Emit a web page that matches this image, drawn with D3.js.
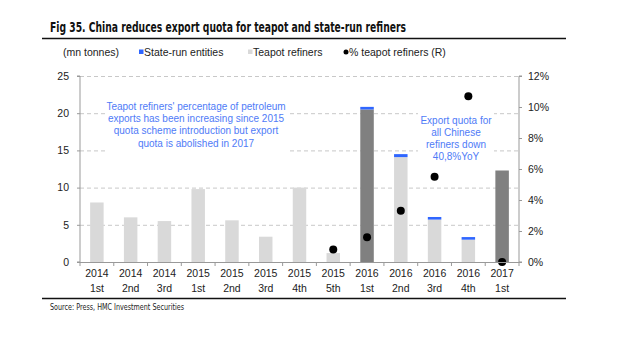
<!DOCTYPE html>
<html>
<head>
<meta charset="utf-8">
<script src="https://cdn.jsdelivr.net/npm/d3@7"></script>
<style>
  body { margin: 0; background: #fff; }
  svg { display: block; font-family: "Liberation Sans", Arial, sans-serif; }
  .tick text { font-size: 10.5px; fill: #222; }
  .grid line { stroke: #c8c8c8; stroke-dasharray: 4 3; }
  .note { font-size: 10px; fill: #4f7bf7; }
</style>
</head>
<body>
<div id="chart"></div>
<script>
// Quarter labels (two lines)
const years = ['2014','2014','2014','2015','2015','2015','2015','2015','2016','2016','2016','2016','2017']
const periods = ['1st','2nd','3rd','1st','2nd','3rd','4th','5th','1st','2nd','3rd','4th','1st']

// Export quota, mn tonnes
const teapot = [8.0, 6.0, 5.5, 9.8, 5.6, 3.4, 10.0, 1.2, null, 14.1, 5.7, 3.0, null]
const totalQuota = [null, null, null, null, null, null, null, null, 20.5, null, null, null, 12.3]
const stateRun = [null, null, null, null, null, null, null, null, 0.35, 0.4, 0.35, 0.35, null]

// % teapot refiners (right axis)
const teapotPct = [null, null, null, null, null, null, null, 0.8, 1.6, 3.3, 5.5, 10.7, 0.0]

const leftTicks = [0, 5, 10, 15, 20, 25]
const rightTicks = [0, 2, 4, 6, 8, 10, 12]

const width = 640, height = 343
const plot = { left: 80, right: 519, top: 76, bottom: 262 }

const svg = d3.select('#chart').append('svg')
  .attr('width', width)
  .attr('height', height)

// Title and rules
svg.append('text')
  .attr('x', 50).attr('y', 32)
  .attr('font-family', '"Liberation Sans Narrow", "DejaVu Sans Condensed", sans-serif')
  .attr('font-weight', 'bold')
  .attr('font-size', 14.5)
  .attr('textLength', 356)
  .attr('lengthAdjust', 'spacingAndGlyphs')
  .attr('fill', '#111')
  .text('Fig 35. China reduces export quota for teapot and state-run refiners')

svg.append('line').attr('x1', 42).attr('x2', 566).attr('y1', 38.5).attr('y2', 38.5)
  .attr('stroke', '#111').attr('stroke-width', 1.6)
svg.append('line').attr('x1', 42).attr('x2', 566).attr('y1', 298.5).attr('y2', 298.5)
  .attr('stroke', '#111').attr('stroke-width', 1.6)

svg.append('text')
  .attr('x', 50).attr('y', 310)
  .attr('font-family', '"Liberation Sans Narrow", "DejaVu Sans Condensed", sans-serif')
  .attr('font-size', 8.5)
  .attr('textLength', 134)
  .attr('lengthAdjust', 'spacingAndGlyphs')
  .attr('fill', '#222')
  .text('Source: Press, HMC Investment Securities')

// Legend
const legend = svg.append('g').attr('font-size', 10.5).attr('fill', '#222')
legend.append('text').attr('x', 63).attr('y', 56).text('(mn tonnes)')
legend.append('rect').attr('x', 139).attr('y', 49.5).attr('width', 4.5).attr('height', 4.5).attr('fill', '#2f66ff')
legend.append('text').attr('x', 144).attr('y', 56).text('State-run entities')
legend.append('rect').attr('x', 248).attr('y', 49.5).attr('width', 4.5).attr('height', 4.5).attr('fill', '#d9d9d9')
legend.append('text').attr('x', 253).attr('y', 56).text('Teapot refiners')
legend.append('circle').attr('cx', 346).attr('cy', 52).attr('r', 2.5).attr('fill', '#000')
legend.append('text').attr('x', 349).attr('y', 56).text('% teapot refiners (R)')

// Scales
const x = d3.scaleBand()
  .domain(d3.range(years.length))
  .range([plot.left, plot.right])
  .paddingInner(0.6).paddingOuter(0.3)
const step = (plot.right - plot.left) / years.length
const xc = i => plot.left + step * (i + 0.5)
const barW = 13.5

const yL = d3.scaleLinear().domain([0, 25]).range([plot.bottom, plot.top])
const yR = d3.scaleLinear().domain([0, 12]).range([plot.bottom, plot.top])

// Grid
svg.append('g').attr('class', 'grid')
  .attr('transform', `translate(${plot.left},0)`)
  .call(d3.axisLeft(yL).tickValues(leftTicks.filter(d => d > 0)).tickSize(-(plot.right - plot.left)).tickFormat(''))
  .call(g => g.select('.domain').remove())

// Bars
const base = years.map((d, i) => ({
  i,
  teapot: teapot[i],
  total: totalQuota[i],
  state: stateRun[i]
}))

svg.append('g').selectAll('rect')
  .data(base.filter(d => d.teapot != null))
  .join('rect')
  .attr('x', d => xc(d.i) - barW / 2)
  .attr('width', barW)
  .attr('y', d => yL(d.teapot))
  .attr('height', d => yL(0) - yL(d.teapot))
  .attr('fill', '#d9d9d9')

svg.append('g').selectAll('rect')
  .data(base.filter(d => d.total != null))
  .join('rect')
  .attr('x', d => xc(d.i) - barW / 2)
  .attr('width', barW)
  .attr('y', d => yL(d.total))
  .attr('height', d => yL(0) - yL(d.total))
  .attr('fill', '#808080')

svg.append('g').selectAll('rect')
  .data(base.filter(d => d.state != null))
  .join('rect')
  .attr('x', d => xc(d.i) - barW / 2)
  .attr('width', barW)
  .attr('y', d => yL((d.teapot ?? d.total) + d.state))
  .attr('height', d => yL(0) - yL(d.state))
  .attr('fill', '#2f66ff')

// Annotation boxes
function note(cx, y0, lines, boxW, boxH) {
  svg.append('rect')
    .attr('x', cx - boxW / 2).attr('y', y0 - 12)
    .attr('width', boxW).attr('height', boxH)
    .attr('fill', '#fff')
  const t = svg.append('text').attr('class', 'note').attr('text-anchor', 'middle')
  lines.forEach((l, k) => {
    t.append('tspan').attr('x', cx).attr('y', y0 + k * 12.2).text(l)
  })
}
note(196, 110, [
  "Teapot refiners' percentage of petroleum",
  'exports has been increasing since 2015',
  'quota scheme introduction but export',
  'quota is abolished in 2017'
], 182, 54)
note(456, 123.5, ['Export quota for', 'all Chinese', 'refiners down', '40,8%YoY'], 76, 56)

// Dots
svg.append('g').selectAll('circle')
  .data(teapotPct.map((v, i) => ({ i, v })).filter(d => d.v != null))
  .join('circle')
  .attr('cx', d => xc(d.i))
  .attr('cy', d => yR(d.v))
  .attr('r', 4)
  .attr('fill', '#000')

// Axes
const axisColor = '#999'
svg.append('g')
  .attr('transform', `translate(${plot.left},0)`)
  .call(d3.axisLeft(yL).tickValues(leftTicks).tickSize(3).tickPadding(8))
  .call(g => g.selectAll('.domain, line').attr('stroke', axisColor))
  .call(g => g.select('.domain').attr('d', `M-3,${plot.top}H0V${plot.bottom}H-3`))

svg.append('g')
  .attr('transform', `translate(${plot.right},0)`)
  .call(d3.axisRight(yR).tickValues(rightTicks).tickSize(3).tickPadding(6).tickFormat(d => d + '%'))
  .call(g => g.selectAll('.domain, line').attr('stroke', axisColor))
  .call(g => g.select('.domain').attr('d', `M3,${plot.top}H0V${plot.bottom}H3`))

// Bottom axis: ticks between categories
const bottom = svg.append('g')
bottom.append('line')
  .attr('x1', plot.left).attr('x2', plot.right)
  .attr('y1', plot.bottom + 0.5).attr('y2', plot.bottom + 0.5)
  .attr('stroke', axisColor)
bottom.selectAll('.sep')
  .data(d3.range(years.length + 1))
  .join('line')
  .attr('x1', i => plot.left + step * i).attr('x2', i => plot.left + step * i)
  .attr('y1', plot.bottom).attr('y2', plot.bottom + 4)
  .attr('stroke', axisColor)
const labels = bottom.selectAll('.lab')
  .data(years.map((y, i) => ({ y, p: periods[i], i })))
  .join('text')
  .attr('text-anchor', 'middle')
  .attr('font-size', 10.5)
  .attr('fill', '#222')
labels.append('tspan').attr('x', d => xc(d.i)).attr('y', 277).text(d => d.y)
labels.append('tspan').attr('x', d => xc(d.i)).attr('y', 292).text(d => d.p)
</script>
</body>
</html>
